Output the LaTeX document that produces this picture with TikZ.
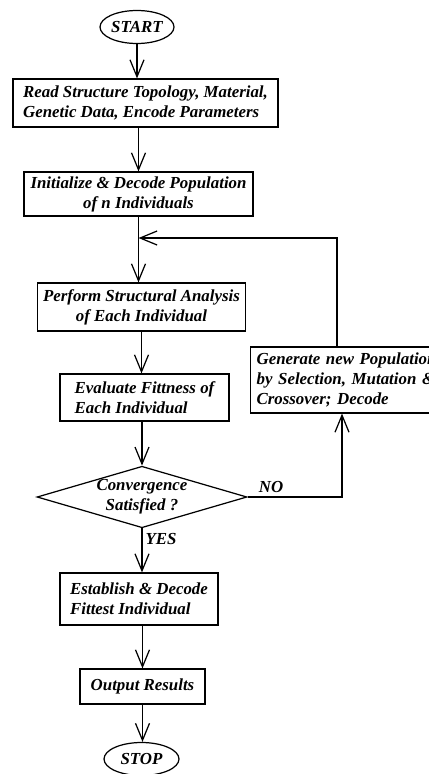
\documentclass[tikz,border=0pt]{standalone}
\usepackage{fontspec}
\setmainfont{Liberation Serif}
\usetikzlibrary{shapes.geometric,arrows.meta}

\tikzset{
  txt/.style={font=\bfseries\itshape\fontsize{9.6}{11.4}\selectfont},
  flow/.style={draw, line width=0.7pt, -{Straight Barb[length=0.34cm,width=0.28cm]}},
  stepbox/.style={draw, rectangle, line width=0.7pt, inner ysep=0pt, txt},
  term/.style={draw, ellipse, line width=0.7pt, inner sep=0pt, minimum width=1.48cm, minimum height=0.66cm, txt},
  test/.style={draw, diamond, aspect=3.4, line width=0.7pt, inner sep=0pt, minimum width=4.2cm, minimum height=1.22cm, align=center, txt},
  tag/.style={txt}
}

\begin{document}
\begin{tikzpicture}[x=0.02cm,y=-0.02cm]
  \useasboundingbox (0,0) rectangle (429,774);
  \clip (0,0) rectangle (429,774);
  \node[term] (start) at (137,27) {START};
  \node[stepbox, minimum width=5.3cm, minimum height=0.96cm, align=left] (read) at (145.5,103) {Read Structure Topology, Material,\\Genetic Data, Encode Parameters};
  \node[stepbox, minimum width=4.58cm, minimum height=0.88cm, align=center] (init) at (138.5,194) {Initialize \& Decode Population\\of n Individuals};
  \node[stepbox, minimum width=4.14cm, minimum height=0.96cm, align=center] (perform) at (141.5,307) {Perform Structural Analysis\\of Each Individual};
  \node[stepbox, minimum width=3.38cm, minimum height=0.94cm, align=left] (eval) at (144.5,397.5) {Evaluate Fittness of\\Each Individual};
  \node[test] (conv) at (142,497) {Convergence\\Satisfied ?};
  \node[stepbox, minimum width=3.16cm, minimum height=1.04cm, align=left] (estab) at (139,599) {Establish \& Decode\\Fittest Individual};
  \node[stepbox, minimum width=2.5cm, minimum height=0.7cm, align=center] (output) at (142.5,686.5) {Output Results};
  \node[term, minimum width=1.5cm] (stop) at (141.5,759) {STOP};
  \node[stepbox, anchor=west, minimum width=4.2cm, minimum height=1.32cm, text width=3.96cm, inner xsep=0.12cm, align=left] (gen) at (250,380) {Generate new Population\\by Selection, Mutation \&\\Crossover; Decode};
  \node[tag] (no) at (271,487) {NO};
  \node[tag] (yes) at (161,539) {YES};
  \coordinate (back) at (337,238);
  \coordinate (nobend) at (342,497);

  \draw[flow] (start) -- (start |- read.north);
  \draw[flow] (init |- read.south) -- (init);
  \draw[flow] (init) -- (init |- perform.north);
  \draw[flow] (perform) -- (perform |- eval.north);
  \draw[flow] (conv |- eval.south) -- (conv);
  \draw[flow] (conv) -- (conv |- estab.north);
  \draw[flow] (output |- estab.south) -- (output);
  \draw[flow] (output) -- (output |- stop.north);
  \draw[flow] (conv.east) -- (nobend) -- (nobend |- gen.south);
  \draw[flow] (gen.north -| back) -- (back) -- (init |- back);
\end{tikzpicture}
\end{document}
